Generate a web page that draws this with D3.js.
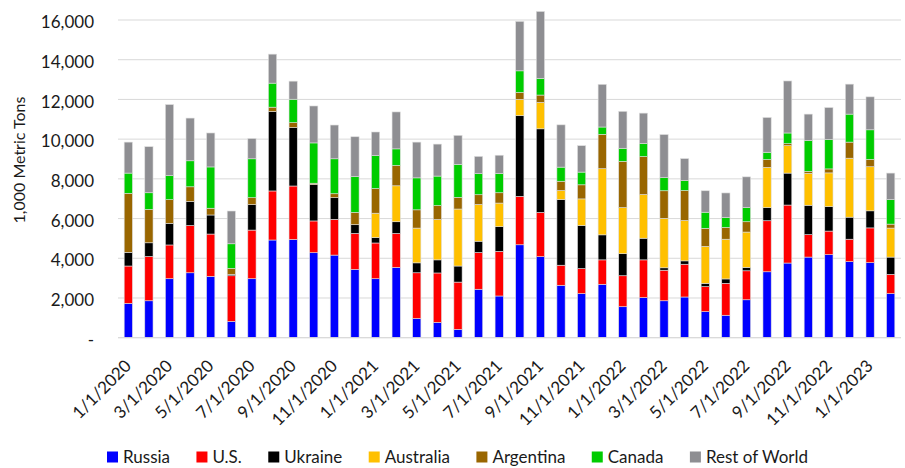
<!DOCTYPE html>
<html>
<head>
<meta charset="utf-8">
<script src="https://cdn.jsdelivr.net/npm/d3@7"></script>
<style>
  html, body { margin: 0; padding: 0; background: #fff; }
  svg { display: block; font-family: Lato, "Open Sans", sans-serif; }
</style>
</head>
<body>
<svg id="chart" width="905" height="468"></svg>
<script>
// Monthly wheat exports, 1,000 metric tons
const months = [
  "1/1/2020","2/1/2020","3/1/2020","4/1/2020","5/1/2020","6/1/2020",
  "7/1/2020","8/1/2020","9/1/2020","10/1/2020","11/1/2020","12/1/2020",
  "1/1/2021","2/1/2021","3/1/2021","4/1/2021","5/1/2021","6/1/2021",
  "7/1/2021","8/1/2021","9/1/2021","10/1/2021","11/1/2021","12/1/2021",
  "1/1/2022","2/1/2022","3/1/2022","4/1/2022","5/1/2022","6/1/2022",
  "7/1/2022","8/1/2022","9/1/2022","10/1/2022","11/1/2022","12/1/2022",
  "1/1/2023","2/1/2023"
];
const russia    = [1730,1860,2970,3270,3090,820, 2970,4920,4950,4280,4160,3440, 2970,3540,970,770,420,2440, 2100,4680,4080,2640,2220,2690, 1560,2020,1860,2050,1310,1130, 1910,3320,3760,4060,4180,3830, 3780,2220];
const us        = [1880,2230,1700,2380,2130,2300, 2450,2470,2690,1600,1800,1810, 1800,1710,2300,2490,2380,1850, 2250,2440,2230,1010,1260,1230, 1560,1900,1540,1650,1260,1610, 1460,2570,2920,1130,1190,1130, 1750,970];
const ukraine   = [690,690,1090,1210,960,70, 1280,4000,2940,1830,1090,440, 270,590,500,660,810,570, 1240,4060,4210,3310,2170,1260, 1110,1090,120,170,170,220, 170,660,1610,1480,1230,1110, 860,870];
const australia = [0,0,0,0,0,0, 0,0,0,0,0,0, 1230,1810,1750,2030,2870,1850, 1190,820,1330,450,1340,3330, 2320,2200,2490,2030,1860,2000, 1780,2030,1380,1610,1700,2970, 2220,1460];
const argentina = [2970,1680,1190,740,340,300, 350,220,250,70,200,620, 1240,1020,920,700,590,490, 520,350,370,470,710,1730, 2330,1910,1390,1510,910,590, 520,390,100,100,200,810, 370,200];
const canada    = [1020,840,1210,1310,2080,1240, 1960,1210,1180,2030,1760,1800, 1660,840,1610,1490,1660,1060, 970,1090,840,710,640,370, 660,660,660,500,810,500, 710,370,540,1550,1480,1410, 1490,1230];
const restOfWorld = [1560,2320,3580,2150,1710,1650, 1020,1460,910,1860,1700,2010, 1190,1860,1800,1610,1460,870, 920,2490,3370,2130,1330,2150, 1860,1530,2170,1110,1080,1240, 1550,1750,2620,1330,1610,1510, 1660,1340];

const seriesNames  = ["Russia","U.S.","Ukraine","Australia","Argentina","Canada","Rest of World"];
const seriesColors = ["#0000ff","#ff0000","#000000","#ffc000","#996600","#00cc00","#8e8e92"];
const seriesValues = [russia, us, ukraine, australia, argentina, canada, restOfWorld];
const yTicks = [0,2000,4000,6000,8000,10000,12000,14000,16000];

const textColor = "#1a1a1a";
const svg = d3.select("#chart");

// table for the stack layout
const rows = months.map((m, i) => {
  const r = { month: m };
  seriesNames.forEach((s, k) => r[s] = seriesValues[k][i]);
  return r;
});
const stacked = d3.stack().keys(seriesNames)(rows);

const x = d3.scaleBand().domain(months).range([118, 901]).paddingInner(0.6).paddingOuter(0.3);
const y = d3.scaleLinear().domain([0, 16000]).range([337.7, 20]);

// horizontal gridlines
svg.append("g").selectAll("line").data(yTicks).join("line")
  .attr("x1", 118).attr("x2", 901)
  .attr("y1", d => y(d)).attr("y2", d => y(d))
  .attr("stroke", "#d9d9d9").attr("stroke-width", 1);

// y axis labels
const yAxis = d3.axisLeft(y).tickValues(yTicks)
  .tickFormat(d => d === 0 ? "-" : d3.format(",")(d))
  .tickSize(0).tickPadding(0);
svg.append("g").attr("transform", "translate(94,0)").call(yAxis)
  .call(g => g.select(".domain").remove())
  .call(g => g.selectAll("text").attr("font-family", "Lato, sans-serif")
    .attr("font-size", 17).attr("fill", textColor).attr("dy", "0.45em"));

// y axis title
svg.append("text")
  .attr("transform", "translate(25,160) rotate(-90)")
  .attr("text-anchor", "middle")
  .attr("font-size", 16).attr("fill", textColor)
  .text("1,000 Metric Tons");

// stacked bars
svg.append("g").selectAll("g").data(stacked).join("g")
  .attr("fill", (d, i) => seriesColors[i])
  .selectAll("rect").data(d => d).join("rect")
  .attr("x", d => x(d.data.month))
  .attr("width", x.bandwidth())
  .attr("y", d => y(d[1]))
  .attr("height", d => Math.max(0, y(d[0]) - y(d[1])))
  .attr("stroke", "#dedede").attr("stroke-width", 0.6);

// baseline
svg.append("line").attr("x1", 118).attr("x2", 901)
  .attr("y1", y(0)).attr("y2", y(0))
  .attr("stroke", "#d9d9d9").attr("stroke-width", 1);

// x axis labels, every other month
const xAxis = d3.axisBottom(x).tickValues(months.filter((m, i) => i % 2 === 0)).tickSize(0);
svg.append("g").call(xAxis)
  .call(g => g.select(".domain").remove())
  .call(g => g.selectAll(".tick").attr("transform", d => `translate(${x(d) + x.bandwidth() / 2 + 4},367)`))
  .call(g => g.selectAll("text")
    .attr("font-family", "Lato, sans-serif").attr("font-size", 17).attr("fill", textColor)
    .attr("y", 0).attr("dy", 0).attr("x", 0)
    .attr("text-anchor", "end")
    .attr("transform", "rotate(-45)"));

// legend, spread across its row
const legendLeft = 107, legendRight = 808;
const legend = svg.append("g");
const items = legend.selectAll("g").data(seriesNames).join("g");
items.append("rect").attr("width", 11).attr("height", 11).attr("y", -11)
  .attr("fill", (d, i) => seriesColors[i]);
items.append("text").attr("x", 16).attr("y", 0)
  .attr("font-size", 17).attr("fill", textColor).text(d => d);
const widths = [];
items.each(function () { widths.push(16 + d3.select(this).select("text").node().getComputedTextLength()); });
const gap = (legendRight - legendLeft - d3.sum(widths)) / (widths.length - 1);
let cx = legendLeft;
items.each(function (d, i) {
  d3.select(this).attr("transform", `translate(${cx},462.5)`);
  cx += widths[i] + gap;
});
</script>
</body>
</html>
